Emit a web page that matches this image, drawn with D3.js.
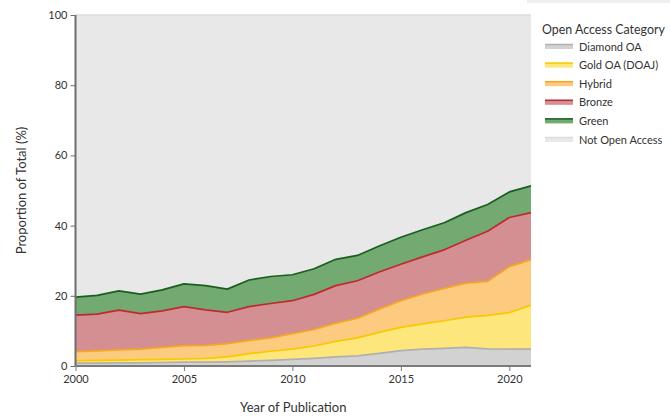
<!DOCTYPE html>
<html>
<head>
<meta charset="utf-8">
<script src="https://cdn.jsdelivr.net/npm/d3@7"></script>
<style>
  body { margin: 0; background: #fff; }
  text { font-family: Lato, "Open Sans", sans-serif; }
</style>
</head>
<body>
<svg id="chart" width="670" height="416"></svg>
<script>
// values (% of all publications per year)
var years = d3.range(2000, 2022);
var diamond = [0.8,0.8,0.9,0.9,1.0,1.1,1.1,1.2,1.4,1.6,1.9,2.2,2.6,2.9,3.6,4.4,4.8,5.0,5.3,4.9,4.8,4.8];
var gold    = [0.7,0.8,0.8,0.9,0.9,0.9,1.1,1.4,2.1,2.6,2.9,3.5,4.4,5.1,6.0,6.6,7.2,7.9,8.6,9.5,10.4,12.5];
var hybrid  = [2.6,2.7,2.9,3.0,3.4,3.8,3.7,3.8,3.8,3.8,4.4,4.7,5.2,5.6,6.6,7.6,8.5,9.2,9.7,9.7,13.1,13.0];
var bronze  = [10.4,10.5,11.3,10.1,10.4,11.1,10.1,8.9,9.6,9.8,9.4,10.0,10.7,10.7,10.6,10.4,10.6,11.0,12.2,14.3,14.0,13.4];
var green   = [5.1,5.3,5.5,5.6,6.0,6.5,6.9,6.6,7.6,7.7,7.4,7.3,7.5,7.2,7.4,7.7,7.7,7.7,7.9,7.6,7.3,7.6];

var categories = ["Diamond OA", "Gold OA (DOAJ)", "Hybrid", "Bronze", "Green", "Not Open Access"];
var fills   = ["#d2d2d2", "#fde77c", "#fccb80", "#d38f91", "#72aa71", "#e8e8e8"];
var strokes = ["#b0b0b0", "#f7c900", "#f5a623", "#be2a2f", "#1a5e20", "#dcdcdc"];
var yTicks = [0, 20, 40, 60, 80, 100];
var xTicks = [2000, 2005, 2010, 2015, 2020];

var rows = years.map(function(y, i) {
  var r = { year: y };
  r[categories[0]] = diamond[i];
  r[categories[1]] = gold[i];
  r[categories[2]] = hybrid[i];
  r[categories[3]] = bronze[i];
  r[categories[4]] = green[i];
  r[categories[5]] = 100 - diamond[i] - gold[i] - hybrid[i] - bronze[i] - green[i];
  return r;
});

var margin = {left: 75.5, top: 15, right: 139, bottom: 50};
var width = 670 - margin.left - margin.right,
    height = 416 - margin.top - margin.bottom;

var svg = d3.select("#chart");

// light strip at the top right
svg.append("rect").attr("x", 527).attr("y", 0).attr("width", 143).attr("height", 3).attr("fill", "#eeeeee");

var g = svg.append("g").attr("transform", "translate(" + margin.left + "," + margin.top + ")");

var x = d3.scaleLinear().domain([2000, 2021]).range([0, width]);
var y = d3.scaleLinear().domain([0, 100]).range([height, 0]);

var series = d3.stack().keys(categories)(rows);

var area = d3.area()
  .x(function(d) { return x(d.data.year); })
  .y0(function(d) { return y(d[0]); })
  .y1(function(d) { return y(d[1]); });

var topLine = d3.line()
  .x(function(d) { return x(d.data.year); })
  .y(function(d) { return y(d[1]); });

g.selectAll(".layer")
  .data(series)
  .enter().append("path")
  .attr("class", "layer")
  .attr("d", area)
  .attr("fill", function(d, i) { return fills[i]; });

g.selectAll(".edge")
  .data(series)
  .enter().append("path")
  .attr("class", "edge")
  .attr("d", topLine)
  .attr("fill", "none")
  .attr("stroke", function(d, i) { return strokes[i]; })
  .attr("stroke-width", 1.7)
  .attr("stroke-linejoin", "round");

// axes
var yAxis = g.append("g")
  .call(d3.axisLeft(y).tickValues(yTicks).tickSize(5).tickPadding(3));
yAxis.select(".domain").attr("stroke", "#6e6e6e").attr("stroke-width", 2).attr("d", "M0," + height + "V0");
yAxis.selectAll(".tick line").attr("stroke", "#6e6e6e");
yAxis.selectAll(".tick text").attr("fill", "#333").style("font-size", "11px");

var xAxis = g.append("g")
  .attr("transform", "translate(0," + height + ")")
  .call(d3.axisBottom(x).tickValues(xTicks).tickFormat(d3.format("d")).tickSize(5).tickPadding(4));
xAxis.select(".domain").attr("stroke", "#7a7a7a").attr("stroke-width", 2).attr("d", "M0,0H" + width);
xAxis.selectAll(".tick line").attr("stroke", "#7a7a7a");
xAxis.selectAll(".tick text").attr("fill", "#333").style("font-size", "11px");

// axis titles
svg.append("text")
  .attr("x", margin.left + width / 2 - 10)
  .attr("y", 412)
  .attr("text-anchor", "middle")
  .attr("fill", "#333")
  .style("font-size", "13px")
  .text("Year of Publication");

svg.append("text")
  .attr("transform", "translate(26," + (margin.top + height / 2) + ") rotate(-90)")
  .attr("text-anchor", "middle")
  .attr("fill", "#333")
  .style("font-size", "13px")
  .text("Proportion of Total (%)");

// legend
var legend = svg.append("g").attr("transform", "translate(542,0)");
legend.append("text")
  .attr("x", 0).attr("y", 34)
  .attr("fill", "#333")
  .style("font-size", "12.4px")
  .text("Open Access Category");

var item = legend.selectAll(".item")
  .data(categories)
  .enter().append("g")
  .attr("class", "item")
  .attr("transform", function(d, i) { return "translate(0," + (46.5 + i * 18.6) + ")"; });

item.append("rect")
  .attr("x", 3).attr("y", -2.5).attr("width", 28).attr("height", 5)
  .attr("fill", function(d, i) { return fills[i]; });
item.append("line")
  .attr("x1", 3).attr("x2", 31).attr("y1", -2).attr("y2", -2)
  .attr("stroke", function(d, i) { return strokes[i]; })
  .attr("stroke-width", 1.5);
item.append("text")
  .attr("x", 37).attr("y", 4)
  .attr("fill", "#333")
  .style("font-size", "11px")
  .text(function(d) { return d; });
</script>
</body>
</html>
